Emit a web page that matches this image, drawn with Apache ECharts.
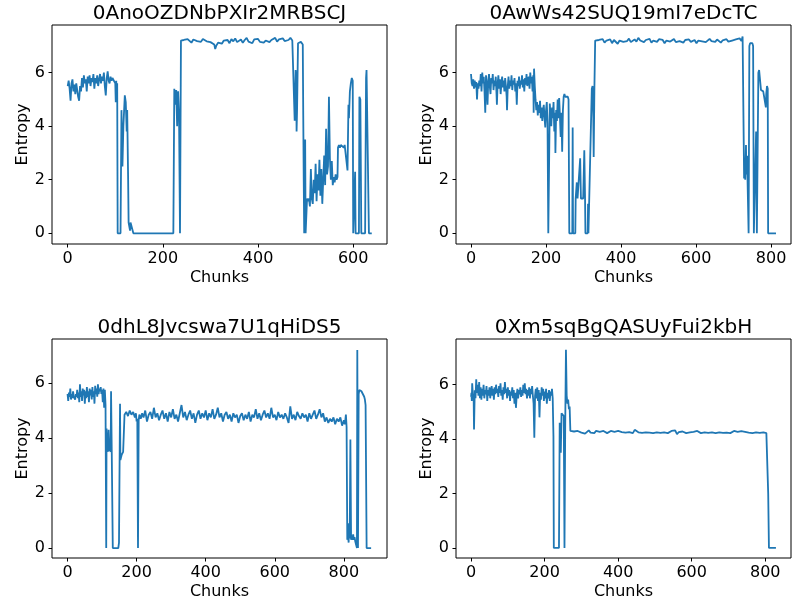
<!DOCTYPE html>
<html>
<head>
<meta charset="utf-8">
<script src="https://cdn.jsdelivr.net/npm/echarts@6/dist/echarts.min.js"></script>
<style>
  html, body { margin: 0; padding: 0; background: #fff; }
  #chart { width: 806px; height: 609px; }
</style>
</head>
<body>
<div id="chart"></div>
<script>
const titles = ['0AnoOZDNbPXIr2MRBSCJ', '0AwWs42SUQ19mI7eDcTC', '0dhL8Jvcswa7U1qHiDS5', '0Xm5sqBgQASUyFui2kbH']
const xTicksShort = [0, 200, 400, 600]
const xTicksLong = [0, 200, 400, 600, 800]
const yTicks = [0, 2, 4, 6]

// [chunk, entropy]
const fileA = [
  [0,5.5],[2,5.7],[4,5.4],[6,4.95],[8,5.6],[10,5.75],[12,5.3],[14,5.55],[16,5.2],[18,5.6],[20,5.35],[22,5.1],[24,4.95],[26,5.5],
  [28,5.3],[30,5.8],[32,5.45],[34,5.9],[36,5.6],[38,5.75],[40,5.3],[42,5.85],[44,5.6],[46,5.9],[48,5.5],[50,5.8],[52,5.65],[54,5.95],
  [56,5.4],[58,5.8],[60,5.6],[62,5.9],[64,5.5],[66,5.75],[68,5.95],[70,5.6],[72,5.85],[74,5.7],[76,6.0],[78,5.5],[80,5.15],[82,5.8],
  [84,6.05],[86,5.7],[88,5.6],[90,5.85],[92,5.7],[94,5.8],[96,5.75],[98,5.85],[100,5.6],[101,4.9],[102,5.7],[103,5.0],[104,5.6],
  [105,0],[111,0],[113,4.6],[115,2.5],[117,4.0],[120,5.15],[122,4.9],[124,3.8],[125,4.6],[127,2.0],[128,0.4],[130,0.4],[131,0.1],
  [132,0.4],[136,0.4],[138,0],[222,0],[224,5.4],[226,4.8],[228,5.35],[230,4.0],[232,5.3],[234,4.4],[236,0],[237,0],[238,7.2],
  [240,7.18],[244,7.22],[248,7.15],[252,7.25],[256,7.2],[260,7.12],[264,7.24],[268,7.28],[272,7.18],[276,7.22],[280,7.15],[284,7.26],
  [288,7.2],[292,7.17],[296,7.24],[300,7.14],[304,7.2],[308,7.05],[310,6.88],[312,7.0],[316,7.12],[320,7.18],[324,7.08],[328,7.2],
  [332,7.15],[336,7.22],[340,7.1],[344,7.25],[348,7.17],[352,7.28],[356,7.14],[360,7.2],[364,7.24],[368,7.12],[372,7.22],[376,7.3],
  [380,7.16],[384,7.2],[388,7.1],[392,7.24],[396,7.18],[400,7.26],[404,7.15],[408,7.22],[412,7.12],[416,7.2],[420,7.27],[424,7.14],
  [428,7.22],[432,7.18],[436,7.3],[440,7.16],[444,7.24],[448,7.2],[452,7.28],[456,7.18],[460,7.25],[464,7.22],[468,7.3],[472,7.2],
  [476,7.26],[477,4.2],[479,6.1],[480,5.9],[481,3.8],[482,4.6],[484,7.1],[486,7.15],[488,7.05],[490,7.15],[492,7.1],[494,7.05],
  [495,4.4],[496,2.0],[497,0],[499,3.5],[500,0],[502,0],[503,1.3],[505,1.2],[507,1.3],[509,1.0],[511,2.4],[513,1.3],[515,1.1],
  [517,2.0],[519,1.5],[521,2.6],[523,1.2],[525,2.2],[527,1.6],[529,2.75],[531,1.4],[533,2.4],[535,1.1],[537,2.0],[539,2.9],[541,1.8],
  [543,3.9],[545,2.2],[547,2.5],[549,5.1],[551,2.8],[553,2.0],[555,2.7],[557,1.8],[559,2.1],[561,1.9],[563,2.2],[565,2.0],[567,2.1],
  [568,3.2],[570,3.3],[572,3.2],[574,3.3],[576,3.25],[578,3.3],[580,3.2],[582,3.3],[584,3.25],[586,3.3],[588,2.35],[590,4.8],
  [591,4.3],[593,5.3],[595,5.6],[597,5.8],[599,5.7],[600,0],[603,0],[604,2.3],[605,0],[612,0],[613,5.1],[615,5.0],[617,0],[625,0],
  [627,5.8],[628,6.1],[631,6.1],[633,0],[639,0]
]

const fileB = [
  [0,5.95],[2,5.6],[4,5.5],[6,5.75],[8,5.4],[10,5.7],[12,5.45],[14,5.65],[16,5.0],[18,5.6],[20,5.4],[22,5.7],[24,5.5],[26,5.95],
  [28,5.3],[30,6.0],[32,5.6],[34,5.85],[36,5.3],[38,4.5],[40,5.9],[42,5.5],[44,4.8],[46,5.7],[48,5.95],[50,5.5],[52,5.2],[54,5.8],
  [56,5.6],[58,5.95],[60,5.35],[62,5.7],[64,5.5],[66,5.85],[68,5.2],[69,4.8],[71,5.6],[73,5.9],[75,5.4],[77,5.75],[79,5.2],[81,5.6],
  [83,5.85],[85,5.45],[87,5.7],[89,5.3],[91,5.8],[93,5.5],[95,5.1],[96,4.6],[98,5.5],[100,5.85],[102,5.4],[104,5.7],[106,5.5],
  [108,5.9],[110,5.35],[112,5.7],[114,5.55],[116,5.8],[118,5.3],[120,5.6],[122,4.8],[124,5.7],[126,5.5],[128,5.85],[130,5.4],
  [132,5.7],[134,5.55],[136,5.9],[138,5.45],[140,5.75],[142,5.3],[144,5.8],[146,5.55],[148,5.95],[150,5.5],[152,5.75],[154,5.85],
  [156,5.4],[158,6.0],[160,5.6],[162,5.85],[164,5.3],[166,5.9],[167,4.5],[168,6.15],[170,5.5],[172,5.0],[174,4.6],[176,4.9],
  [178,4.4],[180,4.8],[182,4.5],[184,4.95],[186,4.3],[188,4.7],[190,4.2],[192,4.6],[194,4.8],[196,4.3],[198,3.95],[200,4.6],
  [202,4.9],[204,4.1],[206,0],[208,0],[210,4.85],[212,4.4],[214,4.0],[216,4.7],[218,4.3],[220,4.9],[222,3.8],[224,4.5],[225,3.0],
  [227,4.6],[229,4.2],[231,5.0],[233,4.3],[235,5.05],[237,4.4],[239,3.6],[241,4.5],[243,3.05],[245,4.6],[247,5.1],[249,5.2],
  [251,5.1],[253,5.15],[255,5.1],[258,5.1],[260,5.0],[262,0],[270,0],[271,3.95],[272,0],[278,0],[279,1.3],[282,1.9],[284,1.3],
  [287,1.35],[291,2.8],[293,1.3],[296,1.35],[299,1.3],[302,3.1],[304,1.3],[305,0],[311,0],[312,1.1],[313,0],[318,0],[320,4.2],
  [322,5.4],[324,5.5],[326,4.3],[327,2.85],[329,5.5],[331,7.2],
  [336,7.15],[341,7.22],[346,7.18],[351,7.25],[356,7.12],[361,7.2],[366,7.17],[371,7.24],[376,7.1],[381,7.22],[386,7.19],[391,7.08],
  [396,7.2],[401,7.25],[406,7.15],[411,7.22],[416,7.18],[421,7.27],[426,7.14],[431,7.2],[436,7.24],[441,7.16],[446,7.3],[451,7.2],
  [456,7.25],[461,7.14],[466,7.22],[471,7.18],[476,7.26],[481,7.12],[486,7.2],[491,7.23],[496,7.15],[501,7.25],[506,7.18],[511,7.22],
  [516,7.1],[521,7.2],[526,7.24],[531,7.16],[536,7.21],[541,7.26],[546,7.14],[551,7.2],[556,7.18],[561,7.25],[566,7.12],[571,7.22],
  [576,7.19],[581,7.24],[586,7.15],[591,7.2],[596,7.22],[601,7.1],[606,7.2],[611,7.25],[616,7.17],[621,7.22],[626,7.14],[631,7.2],
  [636,7.26],[641,7.18],[646,7.22],[651,7.15],[656,7.24],[661,7.2],[666,7.12],[671,7.21],[676,7.18],[681,7.25],[686,7.16],[691,7.22],
  [696,7.2],[701,7.14],[706,7.24],[711,7.2],[716,7.28],[721,7.18],[724,7.35],[726,7.3],[728,2.05],[730,2.6],[731,2.0],[733,3.3],
  [734,2.2],[736,2.9],[737,2.1],[740,0],[742,7.0],[744,7.1],[746,7.05],[748,7.1],[750,7.1],[752,7.0],[754,0],[758,0],[760,3.8],
  [762,0],[764,0],[766,6.0],[768,6.1],[770,5.8],[773,5.35],[776,5.3],[779,5.3],[782,5.25],[784,5.3],[786,4.7],[787,5.2],[789,5.5],
  [791,5.4],[792,0],[813,0]
]

const fileC = [
  [0,5.6],[2,5.35],[4,5.65],[6,5.5],[8,5.8],[10,5.4],[12,5.6],[14,5.45],[16,5.7],[18,5.5],[20,5.55],[22,5.4],[24,5.6],[26,5.5],
  [28,5.75],[30,5.45],[32,5.65],[34,5.3],[36,5.95],[38,5.5],[40,5.7],[42,5.35],[44,5.8],[46,5.55],[48,5.75],[50,5.25],[52,5.7],
  [54,5.45],[56,5.85],[58,5.5],[60,5.7],[62,5.3],[64,5.8],[66,5.55],[68,5.75],[70,5.4],[72,5.85],[74,5.5],[76,5.7],[78,5.25],
  [80,5.9],[82,5.6],[84,5.8],[86,5.5],[88,5.95],[90,5.6],[92,5.8],[94,5.7],[96,5.85],[98,5.6],[100,5.75],[102,5.3],[104,5.8],
  [106,5.1],[108,5.75],[110,5.2],[112,0],[113,4.35],[115,3.6],[117,3.5],[119,4.3],[121,3.6],[123,3.55],[125,3.5],[126,5.7],
  [128,3.5],[131,0],[147,0],[149,0.2],[151,0.15],[152,5.25],[153,3.2],[155,3.3],[157,3.4],[159,3.35],[161,3.5],[163,3.45],
  [165,4.85],[170,4.95],[175,4.8],[180,5.0],[185,4.85],[190,4.95],[195,4.75],[198,4.9],[200,4.6],[202,4.7],[204,0],[206,4.65],
  [208,4.85],[212,4.7],[216,4.9],[220,4.75],[225,5.0],[230,4.6],[235,4.85],[240,4.95],[245,4.7],[250,5.1],[255,4.75],[260,4.9],
  [265,4.65],[270,4.85],[275,5.0],[280,4.7],[285,4.9],[290,4.6],[295,4.95],[300,4.75],[305,5.05],[310,4.7],[315,4.85],[320,4.6],
  [325,4.9],[330,5.2],[335,4.75],[340,4.95],[345,4.65],[350,4.85],[355,5.0],[360,4.7],[365,4.9],[370,4.55],[375,4.85],[380,5.0],
  [385,4.7],[390,4.9],[395,4.75],[400,5.0],[405,4.65],[410,4.9],[415,4.75],[420,5.05],[425,4.7],[430,4.85],[435,5.1],[440,4.75],
  [445,4.9],[450,4.6],[455,4.85],[460,4.95],[465,4.7],[470,4.85],[475,4.6],[480,4.9],[485,4.75],[490,4.85],[495,4.55],[500,4.8],
  [505,4.9],[510,4.65],[515,4.85],[520,4.7],[525,4.95],[530,4.6],[535,4.85],[540,4.75],[545,5.05],[550,4.7],[555,4.9],[560,4.65],
  [565,4.85],[570,5.0],[575,4.75],[580,4.9],[585,4.7],[590,5.1],[595,4.75],[600,4.85],[605,4.65],[610,4.95],[615,4.75],[620,4.85],
  [625,4.7],[630,4.9],[635,4.75],[640,4.55],[645,5.15],[650,4.7],[655,4.85],[660,4.65],[665,4.95],[670,4.8],[675,4.7],[680,4.9],
  [685,4.75],[690,4.85],[695,4.6],[700,4.9],[705,4.7],[710,4.85],[715,5.0],[720,4.7],[725,4.85],[730,5.05],[735,4.75],[740,4.9],
  [745,4.6],[750,4.75],[755,4.55],[760,4.7],[765,4.6],[770,4.75],[775,4.5],[780,4.7],[785,4.6],[790,4.75],[795,4.45],[800,4.65],
  [803,4.5],[806,4.85],[808,4.4],[810,0.3],[812,0.45],[814,0.2],[815,0.9],[817,0.35],[819,3.95],[821,0.3],[823,0.45],[825,0.3],
  [827,0.5],[829,0.3],[831,0.4],[833,0.25],[835,0.3],[837,0.2],[838,0],[839,7.2],[841,0],[843,5.6],[845,5.75],[847,5.7],[849,5.75],
  [851,5.7],[853,5.65],[855,5.6],[857,5.6],[859,5.5],[861,5.4],[863,5.2],[866,0],[879,0]
]

const fileD = [
  [0,5.55],[1,5.7],[2,5.4],[3,6.05],[5,5.6],[7,5.5],[8,4.35],[10,5.8],[12,5.5],[14,6.2],[16,5.7],[18,6.0],[20,5.6],[22,6.1],
  [24,5.5],[26,5.9],[28,5.45],[30,5.85],[32,5.6],[34,6.0],[36,5.5],[38,5.8],[40,5.65],[42,5.95],[44,5.4],[46,5.8],[48,5.6],
  [50,5.9],[52,5.5],[54,5.75],[56,5.95],[58,5.6],[60,5.85],[62,5.45],[64,5.9],[66,5.65],[68,6.0],[70,5.7],[72,5.85],[74,5.55],
  [76,5.95],[78,5.7],[80,6.05],[82,5.6],[84,5.8],[86,5.45],[88,5.9],[90,5.65],[92,6.1],[94,5.7],[96,5.85],[98,5.5],[100,5.9],
  [102,5.6],[104,5.8],[106,5.4],[108,5.75],[110,5.6],[112,5.9],[114,5.5],[116,5.8],[118,5.3],[120,5.7],[122,5.15],[124,5.6],
  [126,5.85],[128,5.5],[130,5.8],[132,5.65],[134,5.9],[136,5.55],[138,5.8],[140,5.6],[142,6.0],[144,5.7],[146,6.05],[148,5.65],
  [150,5.85],[152,5.5],[154,5.8],[156,5.6],[158,5.9],[160,5.5],[162,5.85],[164,5.65],[166,5.95],[168,5.6],[170,5.3],[172,4.05],
  [174,5.6],[176,5.85],[178,5.5],[180,5.9],[182,5.4],[184,5.8],[186,4.8],[188,5.7],[190,5.45],[192,5.9],[194,5.6],[196,5.85],
  [198,5.4],[200,5.75],[202,5.5],[204,5.85],[206,5.3],[208,5.7],[210,5.5],[212,5.8],[214,5.4],[216,5.75],[218,5.6],[220,5.85],
  [222,5.5],[224,4.1],[225,0],[239,0],[241,4.6],[243,4.0],[244,3.5],[246,4.95],[248,4.9],[250,5.0],[252,4.85],[254,0],[256,4.5],
  [258,7.28],[260,5.6],[262,5.3],[264,5.45],[266,5.1],[268,5.2],[270,4.3],
  [275,4.25],[280,4.28],[285,4.22],[290,4.3],[295,4.26],[300,4.24],[305,4.3],[310,4.2],[315,4.27],[320,4.32],[325,4.24],[330,4.28],
  [335,4.22],[340,4.3],[345,4.25],[350,4.27],[355,4.23],[360,4.3],[365,4.26],[370,4.22],[375,4.28],[380,4.3],[385,4.24],[390,4.27],
  [395,4.33],[400,4.3],[405,4.36],[410,4.26],[415,4.3],[420,4.24],[425,4.28],[430,4.26],[435,4.3],[440,4.22],[445,4.34],[450,4.27],
  [455,4.25],[460,4.3],[465,4.23],[470,4.28],[475,4.25],[480,4.3],[485,4.24],[490,4.27],[495,4.22],[500,4.28],[505,4.25],[510,4.3],
  [515,4.23],[520,4.27],[525,4.25],[530,4.29],[535,4.22],[540,4.27],[545,4.3],[550,4.25],[555,4.32],[560,4.18],[565,4.26],[570,4.23],
  [575,4.28],[580,4.25],[585,4.22],[590,4.28],[595,4.25],[600,4.31],[605,4.27],[610,4.24],[615,4.3],[620,4.26],[625,4.22],[630,4.28],
  [635,4.25],[640,4.29],[645,4.23],[650,4.27],[655,4.25],[660,4.3],[665,4.22],[670,4.27],[675,4.25],[680,4.29],[685,4.23],[690,4.27],
  [695,4.24],[700,4.28],[705,4.22],[710,4.26],[715,4.3],[720,4.23],[725,4.27],[730,4.25],[735,4.29],[740,4.22],[745,4.27],[750,4.3],
  [755,4.24],[760,4.26],[765,4.22],[770,4.28],[775,4.25],[780,4.3],[785,4.23],[790,4.27],[795,4.25],[800,4.28],[803,4.22],[805,4.2],
  [808,2.0],[810,0],[829,0]
]

const files = [fileA, fileB, fileC, fileD]
const xTicksList = [xTicksShort, xTicksLong, xTicksLong, xTicksLong]

// axis limits per panel, matching the matplotlib margins
const xLimits = [[-33, 671], [-40, 853], [-45, 925], [-41, 870]]
const yLimits = [[-0.4, 7.78], [-0.4, 7.78], [-0.36, 7.6], [-0.37, 7.68]]
const boxes = [[52, 25], [456, 25], [52, 339], [456, 339]]
const boxW = 335
const boxH = 219

const font = '"DejaVu Sans", sans-serif'
const chart = echarts.init(document.getElementById('chart'), null, { renderer: 'canvas' })

const grid = [], xAxis = [], yAxis = [], series = [], graphic = []
files.forEach((data, i) => {
  const [left, top] = boxes[i]
  grid.push({ left, top, width: boxW, height: boxH, show: true, borderColor: '#000', borderWidth: 1, containLabel: false })
  xAxis.push({
    type: 'value', gridIndex: i, min: xLimits[i][0], max: xLimits[i][1],
    name: 'Chunks', nameLocation: 'middle', nameGap: 26,
    nameTextStyle: { fontFamily: font, fontSize: 16, color: '#000' },
    axisLine: { show: false, onZero: false },
    splitLine: { show: false },
    axisTick: { show: true, inside: false, length: 3.5, lineStyle: { color: '#000', width: 1 }, customValues: xTicksList[i] },
    axisLabel: { fontFamily: font, fontSize: 16, color: '#000', margin: 7, customValues: xTicksList[i] }
  })
  yAxis.push({
    type: 'value', gridIndex: i, min: yLimits[i][0], max: yLimits[i][1],
    name: 'Entropy', nameLocation: 'middle', nameGap: 18,
    nameTextStyle: { fontFamily: font, fontSize: 16, color: '#000' },
    axisLine: { show: false, onZero: false },
    splitLine: { show: false },
    axisTick: { show: true, inside: false, length: 3.5, lineStyle: { color: '#000', width: 1 }, customValues: yTicks },
    axisLabel: { fontFamily: font, fontSize: 16, color: '#000', margin: 7, customValues: yTicks }
  })
  series.push({
    type: 'line', xAxisIndex: i, yAxisIndex: i, data,
    showSymbol: false, symbol: 'none',
    lineStyle: { color: '#1f77b4', width: 1.8 },
    animation: false
  })
  graphic.push({
    type: 'text', x: left + boxW / 2, y: top - 11,
    style: { text: titles[i], font: '20px ' + font, fill: '#000', textAlign: 'center', textVerticalAlign: 'middle' }
  })
})

chart.setOption({
  animation: false,
  backgroundColor: '#fff',
  grid, xAxis, yAxis, series, graphic
})
</script>
</body>
</html>
